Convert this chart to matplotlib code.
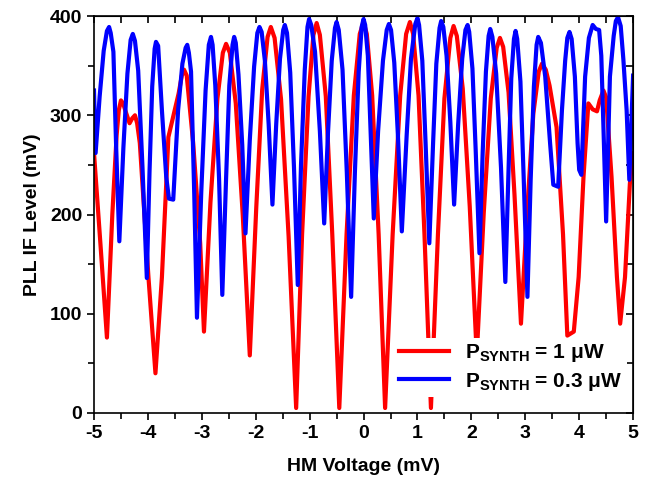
import matplotlib
matplotlib.use("Agg")
import matplotlib.pyplot as plt

# ---------------- Data ---------------- #

# P_SYNTH = 1 uW (red)
red_x = [-5.00, -4.88, -4.76, -4.66, -4.58, -4.54, -4.50, -4.46, -4.42, -4.34,
         -4.29, -4.24, -4.20, -4.15, -3.99, -3.86, -3.74, -3.62, -3.43, -3.37,
         -3.33, -3.28, -3.16, -3.03, -2.96, -2.84, -2.71, -2.61, -2.55, -2.48,
         -2.37, -2.24, -2.11, -1.99, -1.88, -1.78, -1.72, -1.65, -1.53, -1.39,
         -1.25, -1.14, -1.02, -0.93, -0.87, -0.81, -0.70, -0.58, -0.45, -0.315,
         -0.18, -0.07, 0.00, 0.06, 0.16, 0.28, 0.40, 0.54, 0.68, 0.79,
         0.86, 0.92, 1.02, 1.13, 1.25, 1.38, 1.50, 1.61, 1.67, 1.73,
         1.84, 1.97, 2.10, 2.23, 2.36, 2.47, 2.53, 2.59, 2.69, 2.80,
         2.92, 3.04, 3.15, 3.25, 3.31, 3.38, 3.45, 3.58, 3.70, 3.78,
         3.90, 3.99, 4.08, 4.17, 4.25, 4.33, 4.38, 4.45, 4.50, 4.60,
         4.70, 4.76, 4.85, 4.94, 5.00]
red_y = [262, 170, 76, 200, 280, 305, 315, 312, 305, 292,
         297, 300, 292, 272, 137, 40, 137, 278, 322, 340,
         346, 340, 272, 171, 82, 212, 317, 363, 372, 363,
         312, 199, 58, 207, 326, 379, 389, 378, 316, 178,
         5, 180, 319, 381, 393, 381, 319, 180, 5, 180,
         320, 382, 394, 382, 320, 180, 5, 180, 320, 382,
         394, 382, 320, 180, 5, 180, 317, 378, 390, 380,
         327, 208, 58, 202, 317, 368, 378, 369, 323, 220,
         90, 208, 302, 344, 352, 346, 330, 288, 180, 78,
         82, 137, 238, 312, 306, 304, 315, 325, 318, 238,
         137, 90, 137, 231, 262]

# P_SYNTH = 0.3 uW (blue)
blue_x = [-5.00, -4.97, -4.895, -4.82, -4.76, -4.72, -4.69, -4.64, -4.59, -4.53,
          -4.455, -4.38, -4.32, -4.28, -4.24, -4.18, -4.10, -4.02, -3.97, -3.92,
          -3.875, -3.85, -3.81, -3.74, -3.66, -3.61, -3.53, -3.44, -3.36, -3.30,
          -3.27, -3.24, -3.20, -3.14, -3.09, -3.01, -2.93, -2.87, -2.83, -2.80,
          -2.75, -2.68, -2.62, -2.55, -2.49, -2.43, -2.40, -2.37, -2.32, -2.25,
          -2.19, -2.11, -2.03, -1.97, -1.93, -1.89, -1.83, -1.76, -1.69, -1.62,
          -1.55, -1.49, -1.46, -1.42, -1.36, -1.29, -1.22, -1.16, -1.09, -1.04,
          -1.01, -0.97, -0.90, -0.81, -0.73, -0.66, -0.59, -0.53, -0.50, -0.46,
          -0.39, -0.31, -0.23, -0.16, -0.09, -0.035, 0.00, 0.03, 0.08, 0.13,
          0.19, 0.27, 0.36, 0.43, 0.47, 0.51, 0.57, 0.64, 0.71, 0.80,
          0.88, 0.96, 1.00, 1.03, 1.09, 1.15, 1.22, 1.29, 1.35, 1.41,
          1.44, 1.48, 1.54, 1.61, 1.68, 1.755, 1.83, 1.89, 1.93, 1.96,
          2.02, 2.08, 2.15, 2.21, 2.27, 2.32, 2.35, 2.39, 2.46, 2.55,
          2.63, 2.69, 2.74, 2.79, 2.82, 2.85, 2.91, 2.97, 3.04, 3.10,
          3.16, 3.21, 3.24, 3.29, 3.37, 3.46, 3.52, 3.61, 3.68, 3.74,
          3.78, 3.82, 3.86, 3.92, 3.97, 4.00, 4.04, 4.11, 4.18, 4.25,
          4.31, 4.37, 4.41, 4.45, 4.50, 4.57, 4.64, 4.68, 4.72, 4.77,
          4.82, 4.88, 4.93, 5.00]
blue_y = [325, 262, 319, 365, 385, 389, 383, 364, 270, 173,
          267, 342, 376, 382, 375, 345, 247, 136, 243, 329,
          367, 374, 370, 305, 238, 216, 215, 305, 352, 368,
          371, 363, 344, 220, 96, 223, 325, 371, 379, 371,
          330, 236, 119, 236, 330, 371, 379, 373, 341, 270,
          181, 275, 349, 383, 389, 384, 355, 291, 210, 291,
          357, 386, 391, 383, 343, 247, 129, 250, 346, 389,
          397, 391, 364, 284, 191, 282, 355, 388, 394, 386,
          346, 242, 117, 243, 344, 389, 397, 391, 360, 286,
          196, 284, 355, 386, 392, 386, 353, 277, 183, 280,
          357, 392, 398, 391, 355, 273, 171, 272, 352, 388,
          395, 389, 360, 293, 210, 291, 357, 386, 391, 384,
          347, 265, 161, 263, 344, 380, 387, 379, 342, 247,
          132, 246, 337, 377, 385, 377, 334, 238, 117, 235,
          329, 371, 379, 373, 339, 272, 230, 228, 305, 355,
          378, 384, 377, 339, 272, 245, 240, 339, 378, 391,
          387, 386, 360, 288, 193, 339, 380, 395, 399, 390,
          356, 305, 235, 340]

# ---------------- Plot ---------------- #

plt.rcParams["font.family"] = "Liberation Sans"
plt.rcParams["font.weight"] = "bold"
plt.rcParams["axes.unicode_minus"] = False
plt.rcParams["mathtext.fontset"] = "custom"
plt.rcParams["mathtext.rm"] = "Liberation Sans:bold"
plt.rcParams["mathtext.it"] = "Liberation Sans:bold"
plt.rcParams["mathtext.bf"] = "Liberation Sans:bold"

fig = plt.figure(figsize=(6.5, 4.87), dpi=100)
ax = fig.add_axes([0.1446, 0.152, 0.8294, 0.815])

ax.plot(red_x, red_y, color="#ff0000", lw=3.0, label=r"P$_{\rm SYNTH}$ = 1 μW")
ax.plot(blue_x, blue_y, color="#0000ff", lw=3.0, label=r"P$_{\rm SYNTH}$ = 0.3 μW")

ax.set_xlim(-5, 5)
ax.set_ylim(0, 400)
ax.set_xticks(range(-5, 6))
ax.set_xticks([i * 0.5 for i in range(-10, 11)], minor=True)
ax.set_yticks([0, 100, 200, 300, 400])
ax.set_yticks([50, 150, 250, 350], minor=True)

ax.tick_params(which="both", direction="out", labelsize=14, width=1.2)
ax.tick_params(which="major", length=5)
ax.tick_params(which="minor", length=4)

# inward ticks on top and right
top = ax.secondary_xaxis("top")
top.set_xticks(range(-5, 6))
top.set_xticks([i * 0.5 for i in range(-10, 11)], minor=True)
top.tick_params(which="both", direction="in", length=5, width=1.2, labeltop=False)
right = ax.secondary_yaxis("right")
right.set_yticks([0, 100, 200, 300, 400])
right.set_yticks([50, 150, 250, 350], minor=True)
right.tick_params(which="both", direction="in", length=5, width=1.2, labelright=False)

for s in ax.spines.values():
    s.set_linewidth(1.2)

ax.set_xlabel("HM Voltage (mV)", fontsize=14, fontweight="bold", labelpad=12)
ax.set_ylabel("PLL IF Level (mV)", fontsize=14, fontweight="bold", labelpad=6)

leg = ax.legend(loc="lower right", frameon=True, fontsize=15, handlelength=2.4,
                handletextpad=0.8, borderaxespad=0.3, borderpad=0.2,
                labelspacing=0.3, bbox_to_anchor=(1.0, 0.025))
leg.get_frame().set_edgecolor("none")
leg.get_frame().set_facecolor("white")
leg.get_frame().set_alpha(1.0)
leg.get_frame().set_boxstyle("square", pad=0)

fig.savefig("out.png", dpi=100)
